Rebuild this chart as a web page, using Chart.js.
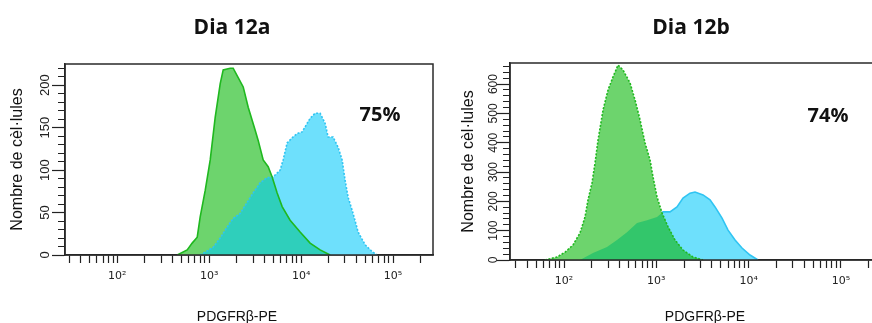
<!DOCTYPE html>
<html>
<head>
<meta charset="utf-8">
<script src="https://cdn.jsdelivr.net/npm/chart.js@4.4.1/dist/chart.umd.min.js"></script>
<style>
  html, body { margin: 0; padding: 0; background: #fff; overflow: hidden; }
  body { width: 872px; height: 323px; position: relative; }
  .panel { position: absolute; top: 0; width: 440px; height: 323px; }
  #wrapA { left: 0; }
  #wrapB { left: 451px; }
  .lbl { position: absolute; color: #111; white-space: nowrap; transform: translate(-50%, -50%); }
  .title, .pct { font: bold 21px 'Open Sans', sans-serif; }
  .pct { font-size: 20px; }
  .xt { font: 14px 'Liberation Sans', Arial, sans-serif; }
</style>
</head>
<body>
<div class="panel" id="wrapA"><canvas id="chartA"></canvas></div>
<div class="panel" id="wrapB"><canvas id="chartB"></canvas></div>

<div class="lbl title" style="left:232px; top:26px">Dia 12a</div>
<div class="lbl title" style="left:691px; top:26px">Dia 12b</div>
<div class="lbl pct" style="left:380px; top:113px">75%</div>
<div class="lbl pct" style="left:828px; top:114px">74%</div>
<div class="lbl xt" style="left:237px; top:316px">PDGFRβ-PE</div>
<div class="lbl xt" style="left:705px; top:316px">PDGFRβ-PE</div>

<script>
/* ── data ─────────────────────────────────────────────────── */

// x ticks (log axis): minor ticks at 1..9 × each decade, labels at 10^n
const xDecades    = [10, 100, 1000, 10000, 100000];
const xSteps      = [1, 2, 3, 4, 5, 6, 7, 8, 9];
const xMajor      = [100, 1000, 10000, 100000];
const xTickLabels = ['10²', '10³', '10⁴', '10⁵'];

// Dia 12a
const greenA_x = [449, 576, 653, 741, 798, 905, 1026, 1162, 1318, 1420, 1691, 1823, 2067, 2344, 2656,
                  3164, 3411, 3866, 4380, 4840, 5486, 6216, 7590, 9750, 12520, 16100, 20660];
const greenA_y = [0, 6, 14, 21, 45, 76, 112, 162, 202, 218, 220, 220, 209, 198, 174,
                  147, 135, 112, 104, 92, 73, 57, 41, 27, 14, 6, 0];
const cyanA_x  = [798, 1104, 1318, 1570, 1823, 2173, 2588, 3006, 3581, 4266, 4962, 5915, 6370, 7045,
                  7985, 9054, 10260, 11050, 12520, 14190, 16100, 18250, 19650, 22270, 25240, 27920,
                  30080, 32430, 36750, 41690, 49660, 59170, 67020];
const cyanA_y  = [0, 9, 20, 33, 43, 49, 62, 73, 85, 91, 92, 100, 112, 132,
                  138, 143, 145, 151, 161, 167, 167, 155, 139, 139, 127, 112,
                  88, 68, 49, 27, 12, 4, 0];
const yLabelsA = [0, 50, 100, 150, 200];

// Dia 12b
const greenB_x = [62, 84, 103, 125, 149, 169, 182, 201, 217, 234, 265, 300, 340, 385, 436, 519, 588,
                  666, 755, 855, 921, 1018, 1154, 1340, 1595, 1947, 2498, 3207];
const greenB_y = [0, 10, 27, 51, 92, 147, 205, 263, 331, 410, 512, 580, 625, 665, 648, 604, 546,
                  478, 399, 341, 283, 215, 160, 113, 68, 34, 10, 0];
const cyanB_x  = [149, 206, 292, 375, 481, 618, 793, 1018, 1183, 1407, 1675, 1947, 2317, 2625, 3207,
                  3818, 4325, 5150, 5985, 7125, 8480, 10350, 12640];
const cyanB_y  = [0, 24, 44, 68, 95, 126, 136, 147, 164, 164, 181, 211, 228, 232, 222,
                  205, 181, 143, 102, 68, 41, 17, 0];
const yLabelsB = [0, 100, 200, 300, 400, 500, 600];

/* ── colours ──────────────────────────────────────────────── */
const GREEN_FILL = '#6dd46d';
const GREEN_LINE = '#1fb81f';
const CYAN_FILL  = '#6ee0fc';
const CYAN_LINE  = '#30c4f2';
const INK        = '#222';
const NONE       = 'rgba(0,0,0,0)';

const pts = (xs, ys) => xs.map((x, i) => ({ x, y: ys[i] }));
const xTicks = xDecades.flatMap(d => xSteps.map(s => d * s));

// clips the dataset flagged with clipTo to the area under another dataset
const overlapClip = {
    id: 'overlapClip',
    afterDatasetDraw(chart, args) {
        const sets = chart.data.datasets;
        const ctx = chart.ctx;
        if (sets[args.index].clipTo !== undefined) ctx.restore();
        const next = sets[args.index - 1];
        if (next && next.clipTo !== undefined) {
            const els = chart.getDatasetMeta(next.clipTo).data;
            const base = chart.scales.y.getPixelForValue(0);
            ctx.save();
            ctx.beginPath();
            ctx.moveTo(els[0].x, base);
            els.forEach(p => ctx.lineTo(p.x, p.y));
            ctx.lineTo(els[els.length - 1].x, base);
            ctx.closePath();
            ctx.clip();
        }
    }
};

const frame = {
    id: 'frame',
    afterDraw(chart) {
        const { ctx, chartArea: a } = chart;
        ctx.save();
        ctx.strokeStyle = '#2a2a2a';
        ctx.lineWidth = 1.5;
        ctx.strokeRect(a.left, a.top, a.right - a.left, a.bottom - a.top);
        ctx.restore();
    }
};

function fillSet(data, color, extra) {
    return Object.assign({ data, fill: 'origin', backgroundColor: color,
        borderColor: NONE, borderWidth: 0.01 }, extra || {});
}
function lineSet(data, color, dotted) {
    return { data, fill: false, borderColor: color, borderWidth: 1.6,
        borderDash: dotted ? [2, 1.6] : [] };
}

function makePanel(id, p) {
    new Chart(document.getElementById(id), {
        type: 'line',
        data: { datasets: p.datasets },
        options: {
            responsive: true, maintainAspectRatio: false, animation: false,
            layout: { padding: p.padding },
            elements: { point: { radius: 0 }, line: { tension: 0 } },
            plugins: { legend: { display: false }, tooltip: { enabled: false } },
            scales: {
                x: {
                    type: 'logarithmic', min: p.xMin, max: p.xMax,
                    afterBuildTicks: s => { s.ticks = xTicks.filter(v => v >= p.xMin && v <= p.xMax).map(v => ({ value: v })); },
                    afterFit: s => { s.height = p.xH; },
                    border: { color: INK, width: 1.5 },
                    grid: { drawOnChartArea: false, tickLength: 8, tickColor: INK, tickWidth: 1.2 },
                    ticks: {
                        autoSkip: false, maxRotation: 0, minRotation: 0, padding: 7, color: INK,
                        font: { family: "'DejaVu Sans', sans-serif", size: 11 },
                        callback: v => { const i = xMajor.indexOf(v); return i < 0 ? '' : xTickLabels[i]; }
                    }
                },
                y: {
                    min: 0, max: p.yMax,
                    afterFit: s => { s.width = p.yW; },
                    border: { color: INK, width: 1.5 },
                    grid: {
                        drawOnChartArea: false, tickLength: 13, tickColor: INK, tickWidth: 1.2,
                        tickBorderDash: c => p.yLabels.includes(c.tick.value) ? [] : [0, 6, 8, 0]
                    },
                    ticks: {
                        stepSize: p.yStep, includeBounds: false, autoSkip: false,
                        minRotation: 90, maxRotation: 90, crossAlign: 'center', padding: p.yPad, color: INK,
                        font: { family: "'Liberation Sans', Arial, sans-serif", size: p.yFont },
                        callback: v => p.yLabels.includes(v) ? String(v) : ''
                    },
                    title: {
                        display: true, text: 'Nombre de cèl·lules', color: '#111',
                        font: { family: "'Liberation Sans', Arial, sans-serif", size: 16 },
                        padding: { top: 8, bottom: 0 }
                    }
                }
            }
        },
        plugins: [overlapClip, frame]
    });
}

// Dia 12a: green solid line, cyan dotted, overlap tinted teal
const gA = pts(greenA_x, greenA_y), cA = pts(cyanA_x, cyanA_y);
makePanel('chartA', {
    datasets: [
        lineSet(gA, GREEN_LINE, false),
        lineSet(cA, CYAN_LINE, true),
        fillSet(cA, '#2fcfbb', { clipTo: 3 }),
        fillSet(gA, GREEN_FILL),
        fillSet(cA, CYAN_FILL)
    ],
    padding: { left: 0, right: 7, top: 64, bottom: 0 },
    xMin: 27, xMax: 272000, xH: 68,
    yMax: 225, yStep: 10, yLabels: yLabelsA, yW: 65, yPad: -4, yFont: 13
});

// Dia 12b: green dotted line, cyan solid, overlap darker green
const gB = pts(greenB_x, greenB_y), cB = pts(cyanB_x, cyanB_y);
makePanel('chartB', {
    datasets: [
        lineSet(gB, GREEN_LINE, true),
        fillSet(cB, '#33c66b', { clipTo: 2 }),
        fillSet(gB, GREEN_FILL),
        fillSet(cB, CYAN_FILL, { borderColor: CYAN_LINE, borderWidth: 1.6 })
    ],
    padding: { left: 0, right: 13, top: 63, bottom: 0 },
    xMin: 26, xMax: 252000, xH: 63,
    yMax: 672, yStep: 20, yLabels: yLabelsB, yW: 59, yPad: -7, yFont: 12
});
</script>
</body>
</html>
